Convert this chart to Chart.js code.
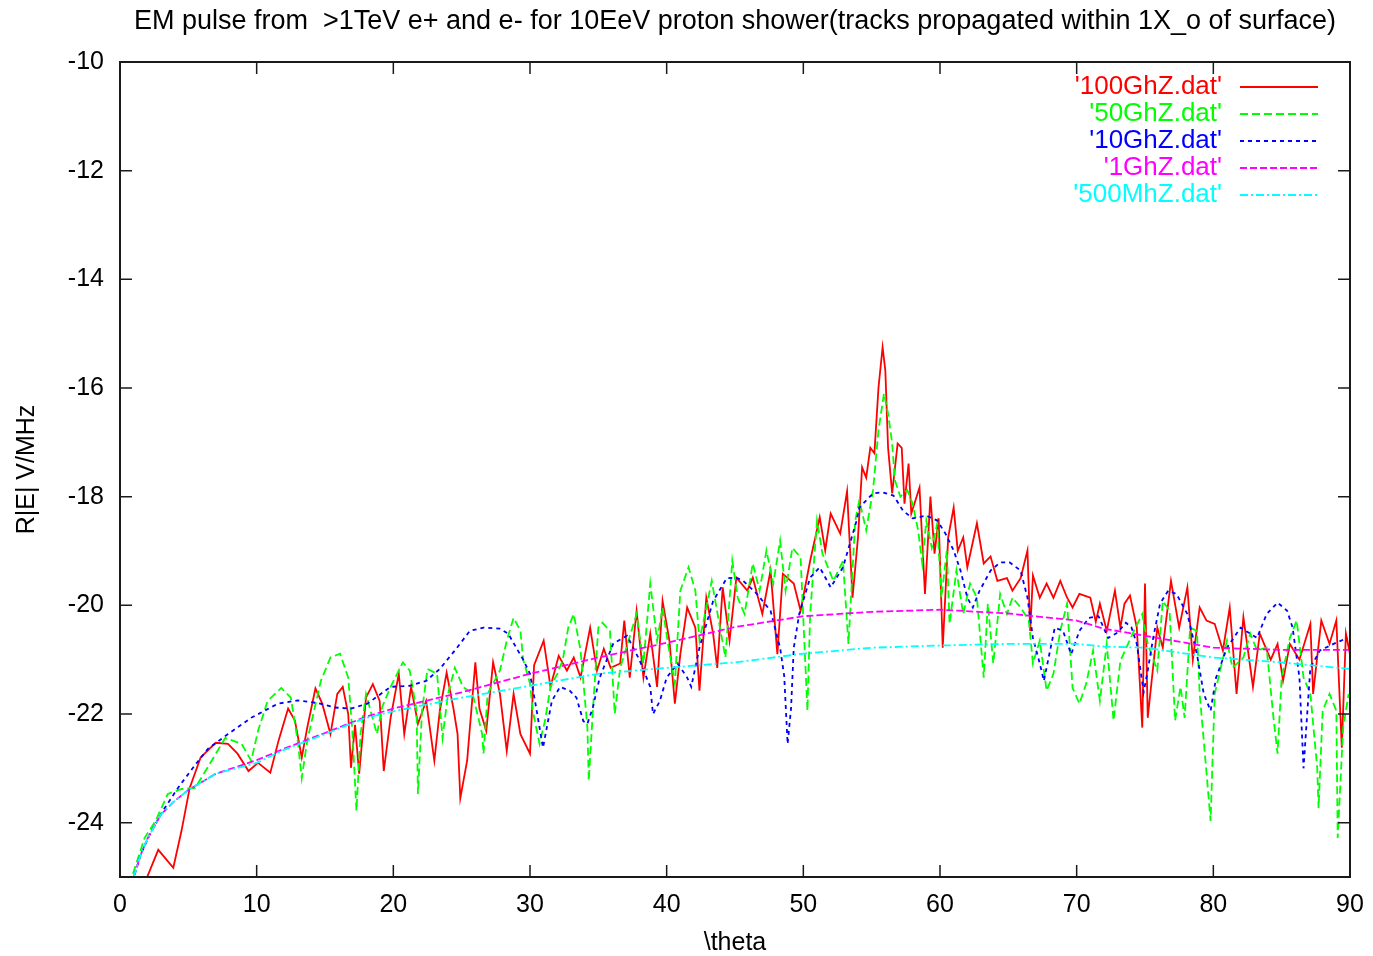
<!DOCTYPE html>
<html>
<head>
<meta charset="utf-8">
<title>EM pulse</title>
<script src="https://cdn.jsdelivr.net/npm/chart.js@4.4.1/dist/chart.umd.min.js"></script>
<style>
  html, body { margin: 0; padding: 0; background: #fff; }
  canvas { display: block; }
</style>
</head>
<body>
<canvas id="pulse" width="1373" height="956"></canvas>
<script>
const xTicks = [0, 10, 20, 30, 40, 50, 60, 70, 80, 90];
const yTicks = [-24, -22, -20, -18, -16, -14, -12, -10];

const seriesNames = ["'100GhZ.dat'", "'50GhZ.dat'", "'10GhZ.dat'", "'1GhZ.dat'", "'500MhZ.dat'"];
const seriesColors = ['#ff0000', '#00ff00', '#0000ff', '#ff00ff', '#00ffff'];
const seriesDash = [[], [8, 4], [4, 4], [7, 3], [8, 3, 2, 3]];

// 100 GHz
const redTheta = [1.5, 2.8, 3.9, 4.5, 5.1, 5.9, 7.0, 7.9, 8.6, 9.4, 10.1, 11.0, 11.6, 12.3, 12.8, 13.3, 13.7, 14.3, 14.8, 15.4,
  15.9, 16.3, 16.7, 16.9, 17.2, 17.5, 18.0, 18.5, 19.0, 19.3, 19.8, 20.4, 20.8, 21.3, 21.8, 22.4, 23.0, 23.4, 23.9, 24.4,
  24.7, 24.9, 25.4, 26.0, 26.3, 26.8, 27.3, 27.8, 28.3, 28.8, 29.3, 30.0, 30.3, 31.0, 31.5, 32.1, 32.7, 33.2, 33.7, 34.4,
  34.9, 35.4, 35.9, 36.6, 36.9, 37.3, 37.8, 38.3, 38.8, 39.3, 39.7, 40.2, 40.6, 41.0, 41.5, 42.1, 42.4, 42.9, 43.4, 43.7,
  44.1, 44.6, 45.1, 45.9, 46.3, 47.0, 47.6, 48.1, 48.5, 49.3, 49.8, 50.5, 51.2, 51.6, 52.0, 52.7, 53.2, 53.6, 54.0, 54.3,
  54.6, 54.9, 55.2, 55.5, 55.8, 56.0, 56.2, 56.5, 56.9, 57.2, 57.4, 57.7, 57.9, 58.5, 58.9, 59.3, 59.6, 59.9, 60.2, 60.6,
  61.0, 61.3, 61.7, 62.0, 62.7, 63.2, 63.7, 64.2, 64.9, 65.3, 65.9, 66.4, 66.6, 66.8, 67.3, 67.8, 68.3, 68.8, 69.3, 69.7,
  70.2, 71.0, 71.4, 71.7, 72.2, 72.8, 73.2, 73.5, 73.9, 74.4, 74.8, 75.0, 75.2, 75.9, 76.3, 76.9, 77.5, 78.1, 78.5, 79.0,
  79.5, 80.1, 80.7, 81.2, 81.7, 82.2, 82.9, 83.4, 84.2, 84.7, 85.1, 85.6, 86.3, 87.1, 87.3, 87.9, 88.5, 89.0, 89.4, 89.7, 90.0];
const redField = [-25.3, -24.5, -24.83, -24.15, -23.36, -22.8, -22.53, -22.55, -22.73, -23.05, -22.9, -23.08, -22.49, -21.9, -22.12, -22.8, -22.25, -21.53, -21.81, -22.37,
  -21.63, -21.5, -22.0, -22.99, -22.2, -23.1, -21.7, -21.45, -21.76, -23.05, -22.07, -21.26, -22.37, -21.5, -22.18, -21.76, -22.86, -21.94, -21.24, -21.9,
  -22.37, -23.55, -22.86, -21.05, -21.9, -22.31, -21.05, -21.63, -22.68, -21.63, -22.37, -22.73, -21.1, -20.65, -21.5, -20.93, -21.2, -20.96, -21.33, -20.41,
  -21.2, -20.8, -21.15, -21.07, -20.28, -21.33, -20.1, -21.33, -20.52, -21.5, -19.92, -20.65, -21.81, -20.9, -20.04, -20.41, -21.57, -19.86, -20.52, -21.15,
  -19.67, -20.65, -19.49, -19.73, -19.49, -20.16, -19.36, -20.9, -19.42, -19.6, -20.1, -19.18, -18.38, -18.99, -18.31, -18.68, -17.9, -19.86, -18.75, -17.46,
  -17.65, -17.1, -17.2, -15.99, -15.25, -15.68, -17.1, -17.94, -17.02, -17.1, -18.13, -17.39, -18.31, -17.83, -19.79, -18.0, -19.05, -18.4, -20.78, -18.75,
  -18.2, -19.0, -18.75, -19.3, -18.49, -19.23, -19.1, -19.55, -19.5, -19.73, -19.5, -18.99, -20.47, -19.45, -19.86, -19.6, -19.86, -19.55, -19.86, -20.04,
  -19.79, -19.86, -20.3, -19.97, -20.47, -19.73, -20.41, -19.97, -19.82, -20.41, -22.25, -19.6, -22.07, -20.41, -20.78, -19.55, -20.41, -19.67, -21.0, -20.04,
  -20.28, -20.34, -20.83, -20.04, -21.63, -20.22, -21.5, -20.52, -21.0, -20.71, -21.39, -20.71, -21.0, -20.34, -21.63, -20.28, -20.71, -20.28, -22.62, -20.52, -20.9];

// 50 GHz
const greenTheta = [0.95, 1.8, 2.6, 3.5, 4.5, 5.5, 6.4, 7.7, 8.9, 9.6, 10.1, 10.8, 11.8, 12.5, 13.0, 13.3, 13.7, 14.7, 15.4, 16.1,
  16.7, 17.0, 17.3, 17.6, 18.0, 18.8, 19.2, 19.8, 20.7, 21.2, 21.7, 21.8, 22.1, 22.5, 23.2, 23.6, 24.0, 24.5, 25.1, 25.8,
  26.5, 26.6, 26.9, 27.8, 28.3, 28.8, 29.3, 29.5, 30.0, 30.2, 30.7, 31.1, 31.5, 32.0, 32.4, 32.8, 33.2, 33.7, 34.2, 34.3,
  34.6, 35.0, 35.3, 35.85, 36.2, 36.6, 37.8, 38.3, 38.8, 39.3, 39.7, 40.1, 40.6, 41.0, 41.6, 42.1, 42.4, 42.9, 43.3, 43.9,
  44.3, 44.8, 45.2, 45.7, 46.3, 46.8, 47.3, 47.8, 48.3, 48.7, 49.2, 49.8, 50.3, 50.5, 51.0, 51.4, 52.2, 52.9, 53.3, 53.8,
  54.1, 54.6, 55.1, 55.5, 55.9, 56.2, 56.5, 56.7, 57.1, 57.6, 58.0, 58.4, 58.7, 59.0, 59.4, 59.8, 60.1, 60.5, 60.7, 61.2,
  61.7, 62.2, 62.7, 63.2, 63.5, 63.9, 64.4, 64.9, 65.3, 65.9, 66.5, 66.8, 67.3, 67.8, 68.3, 68.8, 69.3, 69.7, 70.2, 70.7,
  71.2, 71.7, 72.2, 72.7, 73.2, 74.1, 74.8, 75.2, 75.9, 76.3, 76.8, 77.2, 77.6, 77.9, 78.3, 78.8, 79.0, 79.3, 79.8, 80.1,
  80.5, 81.0, 81.4, 82.2, 82.7, 83.2, 83.9, 84.4, 84.7, 85.0, 85.6, 86.1, 86.6, 87.1, 87.6, 87.7, 88.0, 88.5, 89.0, 89.1, 89.5, 89.9];
const greenField = [-24.94, -24.28, -23.97, -23.47, -23.38, -23.36, -22.99, -22.44, -22.55, -22.86, -22.31, -21.76, -21.52, -21.7, -22.49, -23.18, -22.49, -21.39, -20.96, -20.89,
  -21.33, -22.31, -23.78, -22.37, -21.63, -22.37, -21.86, -21.5, -21.05, -21.2, -21.94, -23.47, -21.94, -21.17, -21.26, -22.44, -21.63, -21.15, -21.5, -21.63,
  -22.37, -22.73, -21.63, -21.2, -20.65, -20.23, -20.47, -21.0, -21.44, -21.94, -22.55, -22.12, -21.5, -21.26, -21.0, -20.41, -20.16, -20.83, -22.25, -23.23,
  -21.94, -20.41, -20.32, -20.47, -22.0, -21.15, -20.16, -21.07, -19.6, -20.65, -20.04, -20.71, -21.44, -19.73, -19.3, -19.73, -20.65, -20.04, -19.55, -20.41,
  -20.96, -19.18, -19.86, -20.16, -19.23, -19.73, -18.99, -19.6, -18.81, -19.73, -18.94, -19.12, -21.94, -20.16, -18.44, -19.05, -19.55, -19.18, -20.71, -18.44,
  -18.07, -18.62, -17.88, -16.78, -16.1, -16.47, -17.02, -17.7, -18.0, -17.88, -18.13, -18.62, -19.23, -18.44, -18.94, -18.49, -19.86, -18.99, -20.34, -19.36,
  -20.16, -19.6, -19.86, -21.33, -19.97, -21.07, -19.79, -20.16, -19.86, -20.04, -20.28, -21.07, -20.65, -21.57, -21.26, -20.47, -19.97, -21.52, -21.81, -21.44,
  -20.83, -21.76, -20.71, -22.12, -21.02, -20.52, -20.16, -20.71, -21.2, -19.92, -20.1, -22.12, -21.5, -22.07, -20.41, -20.47, -21.63, -22.49, -23.97, -21.63,
  -21.2, -20.65, -21.15, -20.96, -20.52, -20.83, -20.78, -22.07, -22.73, -21.33, -20.6, -20.28, -21.33, -21.63, -22.99, -23.73, -21.94, -21.63, -21.94, -24.28, -22.25, -21.63];

// 10 GHz
const blueTheta = [0.9, 1.5, 2.2, 3.15, 4.24, 5.46, 6.44, 7.9, 9.6, 11.56, 13.0, 14.5, 15.7, 16.9, 18.1, 19.8, 21.2, 22.4, 23.4, 24.6,
  25.6, 26.6, 27.8, 28.4, 29.0, 29.5, 30.0, 30.4, 30.95, 31.6, 32.2, 32.9, 33.4, 33.9, 34.2, 34.6, 35.1, 36.1, 37.1, 38.0,
  38.8, 39.0, 39.5, 40.0, 40.8, 41.5, 41.8, 42.4, 43.4, 44.4, 45.1, 45.6, 46.6, 47.6, 48.3, 48.6, 48.85, 49.1, 49.3, 49.7,
  50.5, 51.2, 52.0, 52.9, 53.4, 53.9, 54.1, 55.1, 55.8, 56.6, 57.3, 58.0, 59.0, 59.8, 60.4, 61.0, 61.5, 62.0, 62.4, 62.9,
  63.7, 64.4, 65.1, 65.9, 66.4, 66.8, 67.3, 67.6, 68.4, 69.0, 69.6, 70.2, 70.9, 71.6, 72.3, 73.0, 73.6, 74.0, 74.4, 74.9,
  75.2, 75.6, 76.1, 76.7, 77.3, 78.1, 78.8, 79.3, 79.8, 80.2, 81.0, 82.0, 83.2, 83.9, 84.7, 85.4, 85.8, 86.3, 86.6, 86.8,
  87.1, 87.8, 88.8, 89.8];
const blueField = [-25.1, -24.6, -24.2, -23.78, -23.36, -22.95, -22.64, -22.37, -22.07, -21.81, -21.75, -21.8, -21.88, -21.9, -21.81, -21.5, -21.48, -21.39, -21.17, -20.8,
  -20.47, -20.41, -20.43, -20.52, -20.78, -21.0, -21.26, -21.81, -22.62, -21.76, -21.5, -21.57, -21.7, -22.13, -22.18, -21.88, -21.33, -20.7, -20.56, -21.0,
  -21.5, -22.0, -21.76, -21.33, -21.07, -21.33, -21.5, -20.78, -19.92, -19.5, -19.49, -19.55, -19.79, -20.1, -20.78, -21.3, -22.55, -21.9, -20.78, -20.16,
  -19.49, -19.3, -19.67, -19.3, -18.87, -18.44, -18.2, -17.94, -17.92, -17.98, -18.26, -18.4, -18.35, -18.44, -18.68, -18.99, -19.36, -19.86, -20.04, -19.73,
  -19.36, -19.21, -19.21, -19.36, -19.86, -20.6, -21.07, -21.39, -20.41, -20.47, -20.9, -20.47, -20.23, -20.2, -20.6, -20.5, -20.32, -20.4, -20.71, -21.6,
  -21.2, -20.6, -19.97, -19.73, -19.79, -20.16, -20.9, -21.63, -21.94, -21.33, -20.78, -20.41, -20.6, -20.16, -19.95, -20.1, -20.41, -21.33, -23.0, -22.25,
  -21.15, -20.83, -20.71, -20.6];

// 1 GHz
const magentaTheta = [1.0, 1.5, 2.0, 3.0, 4.0, 5.0, 7.0, 10.0, 12.0, 15.0, 18.0, 20.0, 25.0, 30.0, 35.0, 40.0, 45.0, 50.0, 55.0, 60.0, 65.0, 70.0, 72.0, 75.0, 80.0, 85.0, 90.0];
const magentaField = [-25.0, -24.6, -24.3, -23.85, -23.6, -23.4, -23.1, -22.85, -22.64, -22.35, -22.05, -21.9, -21.6, -21.26, -20.96, -20.69, -20.4, -20.2, -20.12, -20.08, -20.15, -20.28, -20.43, -20.56, -20.78, -20.82, -20.82];

// 500 MHz
const cyanTheta = [1.0, 1.5, 2.0, 3.0, 4.0, 5.0, 7.0, 10.0, 12.0, 15.0, 18.0, 20.0, 25.0, 30.0, 35.0, 40.0, 45.0, 50.0, 55.0, 60.0, 65.0, 70.0, 72.0, 75.0, 80.0, 85.0, 90.0];
const cyanField = [-25.0, -24.6, -24.3, -23.85, -23.6, -23.4, -23.1, -22.9, -22.66, -22.37, -22.07, -21.95, -21.7, -21.48, -21.26, -21.15, -21.05, -20.89, -20.78, -20.74, -20.71, -20.71, -20.76, -20.78, -20.96, -21.05, -21.17];

const seriesData = [
  [redTheta, redField],
  [greenTheta, greenField],
  [blueTheta, blueField],
  [magentaTheta, magentaField],
  [cyanTheta, cyanField]
];

const FONT = '"Liberation Sans", Arial, Helvetica, sans-serif';

// inward ticks on all four sides plus the box, gnuplot style
const frameTicks = {
  id: 'frameTicks',
  afterDatasetsDraw(chart) {
    const { ctx, chartArea: a, scales } = chart;
    const len = 12;
    ctx.save();
    ctx.strokeStyle = '#1a1a1a';
    ctx.lineWidth = 1.5;
    ctx.beginPath();
    scales.x.ticks.forEach(t => {
      const px = scales.x.getPixelForValue(t.value);
      ctx.moveTo(px, a.bottom); ctx.lineTo(px, a.bottom - len);
      ctx.moveTo(px, a.top); ctx.lineTo(px, a.top + len);
    });
    scales.y.ticks.forEach(t => {
      const py = scales.y.getPixelForValue(t.value);
      ctx.moveTo(a.left, py); ctx.lineTo(a.left + len, py);
      ctx.moveTo(a.right, py); ctx.lineTo(a.right - len, py);
    });
    ctx.stroke();
    ctx.lineWidth = 2;
    ctx.strokeRect(a.left, a.top, a.right - a.left, a.bottom - a.top);
    ctx.restore();
  }
};

// key in the top right corner: label right-aligned, then a line sample
const sampleKey = {
  id: 'sampleKey',
  afterDraw(chart) {
    const { ctx, chartArea: a } = chart;
    ctx.save();
    ctx.font = '26px ' + FONT;
    ctx.textAlign = 'right';
    ctx.textBaseline = 'middle';
    chart.data.datasets.forEach((ds, i) => {
      const y = a.top + 25 + i * 27;
      ctx.fillStyle = ds.borderColor;
      ctx.fillText(ds.label, a.right - 128, y);
      ctx.strokeStyle = ds.borderColor;
      ctx.lineWidth = 1.8;
      ctx.setLineDash(ds.borderDash);
      ctx.beginPath();
      ctx.moveTo(a.right - 110, y);
      ctx.lineTo(a.right - 32, y);
      ctx.stroke();
    });
    ctx.restore();
  }
};

new Chart(document.getElementById('pulse'), {
  type: 'line',
  data: {
    datasets: seriesData.map(([xs, ys], i) => ({
      label: seriesNames[i],
      data: xs.map((x, k) => ({ x: x, y: ys[k] })),
      borderColor: seriesColors[i],
      borderDash: seriesDash[i],
      borderWidth: 1.8,
      pointRadius: 0,
      tension: 0,
      fill: false,
      order: 5 - i
    }))
  },
  options: {
    responsive: false,
    animation: false,
    events: [],
    layout: { padding: { top: 0, right: 23, bottom: 0, left: 0 } },
    plugins: {
      legend: { display: false },
      tooltip: { enabled: false },
      title: {
        display: true,
        fullSize: false,
        text: 'EM pulse from  >1TeV e+ and e- for 10EeV proton shower(tracks propagated within 1X_o of surface)',
        color: '#000',
        font: { family: FONT, size: 27, weight: 'normal', lineHeight: 1.2 },
        padding: { top: 5, bottom: 24.6 }
      }
    },
    scales: {
      x: {
        type: 'linear',
        min: 0,
        max: 90,
        afterBuildTicks: s => { s.ticks = xTicks.map(v => ({ value: v })); },
        afterFit: s => { s.height = 79; s.paddingLeft = 0; s.paddingRight = 0; },
        grid: { display: false, drawTicks: false },
        border: { display: false },
        ticks: {
          color: '#000',
          padding: 13,
          font: { family: FONT, size: 25 },
          callback: v => String(v)
        },
        title: {
          display: true,
          text: '\\theta',
          color: '#000',
          font: { family: FONT, size: 25, lineHeight: 1 },
          padding: { top: 0, bottom: 0 }
        }
      },
      y: {
        type: 'linear',
        min: -25,
        max: -10,
        afterBuildTicks: s => { s.ticks = yTicks.map(v => ({ value: v })); },
        afterFit: s => { s.width = 120; },
        grid: { display: false, drawTicks: false },
        border: { display: false },
        ticks: {
          color: '#000',
          padding: 16,
          font: { family: FONT, size: 25 },
          callback: v => String(v)
        },
        title: {
          display: true,
          text: 'R|E| V/MHz',
          color: '#000',
          font: { family: FONT, size: 25, lineHeight: 1.2 },
          padding: { top: 12, bottom: 0 }
        }
      }
    }
  },
  plugins: [frameTicks, sampleKey]
});
</script>
</body>
</html>
